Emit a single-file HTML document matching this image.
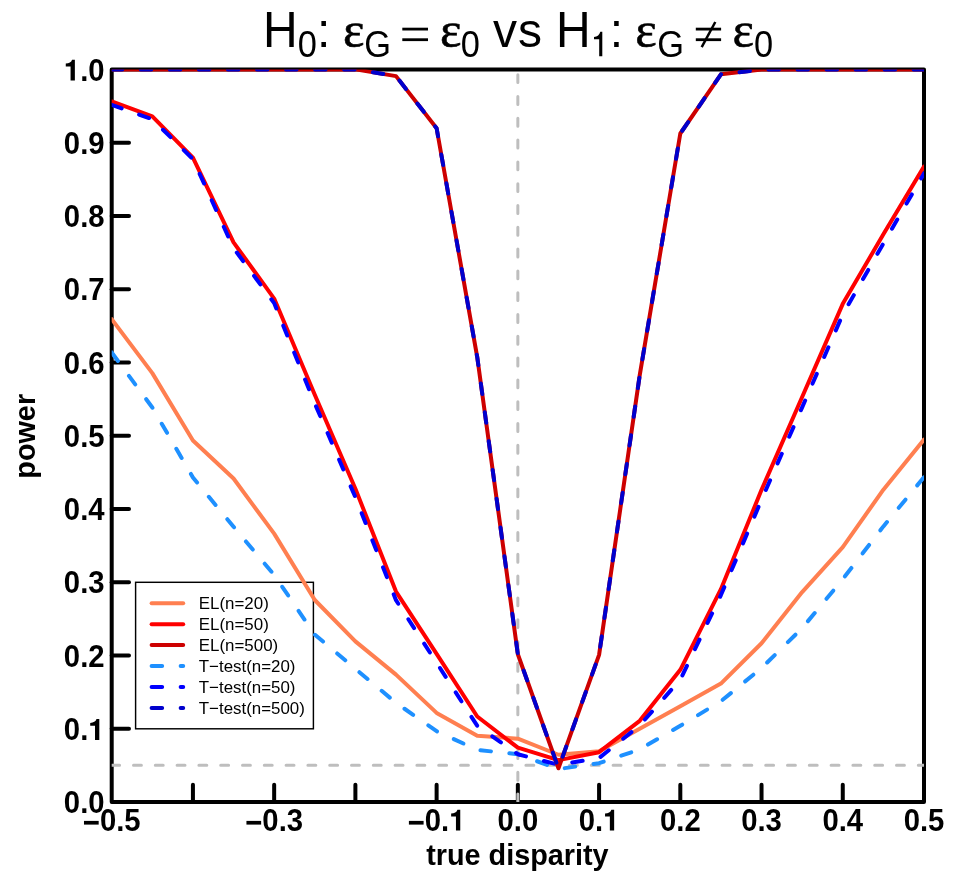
<!DOCTYPE html>
<html><head><meta charset="utf-8"><title>power</title>
<style>html,body{margin:0;padding:0;background:#fff;}body{width:959px;height:872px;overflow:hidden;}svg{display:block;will-change:transform;}text{font-family:"Liberation Sans",sans-serif;fill:#000;}.b{font-weight:bold;font-size:28.8px;}.k{font-weight:bold;font-size:29.3px;}.t{font-size:48px;}.s{font-size:34.4px;}.e{font-family:"Liberation Serif",serif;font-size:51px;stroke:#000;stroke-width:0.6px;}.l{font-size:16.9px;}</style></head><body>
<svg width="959" height="872" viewBox="0 0 959 872">
<rect width="959" height="872" fill="#fff"/>
<defs><clipPath id="c"><rect x="111.7" y="69.4" width="812.3" height="732.6"/></clipPath></defs>
<g fill="none" stroke="#000" stroke-width="4.0" stroke-linecap="round" stroke-linejoin="round">
<rect x="111.7" y="69.4" width="812.3" height="732.6"/>
<line x1="192.93" y1="802.0" x2="192.93" y2="784.7"/>
<line x1="274.16" y1="802.0" x2="274.16" y2="784.7"/>
<line x1="355.39" y1="802.0" x2="355.39" y2="784.7"/>
<line x1="436.62" y1="802.0" x2="436.62" y2="784.7"/>
<line x1="517.85" y1="802.0" x2="517.85" y2="784.7"/>
<line x1="599.08" y1="802.0" x2="599.08" y2="784.7"/>
<line x1="680.31" y1="802.0" x2="680.31" y2="784.7"/>
<line x1="761.54" y1="802.0" x2="761.54" y2="784.7"/>
<line x1="842.77" y1="802.0" x2="842.77" y2="784.7"/>
<line x1="111.7" y1="728.74" x2="129.0" y2="728.74"/>
<line x1="111.7" y1="655.48" x2="129.0" y2="655.48"/>
<line x1="111.7" y1="582.22" x2="129.0" y2="582.22"/>
<line x1="111.7" y1="508.96" x2="129.0" y2="508.96"/>
<line x1="111.7" y1="435.70" x2="129.0" y2="435.70"/>
<line x1="111.7" y1="362.44" x2="129.0" y2="362.44"/>
<line x1="111.7" y1="289.18" x2="129.0" y2="289.18"/>
<line x1="111.7" y1="215.92" x2="129.0" y2="215.92"/>
<line x1="111.7" y1="142.66" x2="129.0" y2="142.66"/>
</g>
<g clip-path="url(#c)" fill="none" stroke="#BEBEBE" stroke-width="3.0" stroke-linecap="round" stroke-dasharray="7.9,13.9">
<line x1="111.7" y1="765.37" x2="924.0" y2="765.37"/>
<line x1="517.85" y1="802.0" x2="517.85" y2="69.4"/>
</g>
<rect x="135.6" y="582.3" width="177.79999999999998" height="146.5" fill="none" stroke="#000" stroke-width="1.45"/>
<line x1="151.6" y1="603.3" x2="183.2" y2="603.3" stroke="#FF7F50" stroke-width="4.0" stroke-linecap="round"/>
<text class="l" x="198.8" y="609.3">EL(n=20)</text>
<line x1="151.6" y1="624.2" x2="183.2" y2="624.2" stroke="#FF0000" stroke-width="4.0" stroke-linecap="round"/>
<text class="l" x="198.8" y="630.2">EL(n=50)</text>
<line x1="151.6" y1="645.1" x2="183.2" y2="645.1" stroke="#CD0000" stroke-width="4.0" stroke-linecap="round"/>
<text class="l" x="198.8" y="651.1">EL(n=500)</text>
<line x1="151.6" y1="666.1" x2="183.2" y2="666.1" stroke="#1E90FF" stroke-width="4.0" stroke-linecap="round" stroke-dasharray="10.55,18.50"/>
<text class="l" x="198.8" y="672.1">T−test(n=20)</text>
<line x1="151.6" y1="687.1" x2="183.2" y2="687.1" stroke="#0000FF" stroke-width="4.0" stroke-linecap="round" stroke-dasharray="10.55,18.50"/>
<text class="l" x="198.8" y="693.1">T−test(n=50)</text>
<line x1="151.6" y1="708.0" x2="183.2" y2="708.0" stroke="#0000CD" stroke-width="4.0" stroke-linecap="round" stroke-dasharray="10.55,18.50"/>
<text class="l" x="198.8" y="714.0">T−test(n=500)</text>
<g clip-path="url(#c)" fill="none" stroke-width="4.0" stroke-linecap="round" stroke-linejoin="round">
<path d="M111.70,319.22 L152.31,373.14 L192.93,440.46 L233.55,478.56 L274.16,533.65 L314.77,600.02 L355.39,641.34 L396.00,674.60 L436.62,712.92 L477.23,735.85 L517.85,738.63 L558.47,754.75 L599.08,751.30 L639.70,728.81 L680.31,706.25 L720.92,683.61 L761.54,643.25 L802.15,592.04 L842.77,547.06 L883.38,489.69 L924.00,439.58" stroke="#FF7F50"/>
<path d="M111.70,352.48 L152.31,407.49 L192.93,477.46 L233.55,526.76 L274.16,574.89 L314.77,634.60 L355.39,668.81 L396.00,702.81 L436.62,731.23 L477.23,749.91 L517.85,754.23 L558.47,769.03 L599.08,763.17 L639.70,749.40 L680.31,725.81 L720.92,701.27 L761.54,668.01 L802.15,628.15 L842.77,579.14 L883.38,526.40 L924.00,477.17" stroke="#1E90FF" stroke-dasharray="10.55,18.50"/>
<path d="M111.70,101.49 L152.31,116.29 L192.93,157.53 L233.55,242.44 L274.16,298.56 L314.77,394.67 L355.39,488.81 L396.00,591.60 L436.62,653.94 L477.23,716.51 L517.85,747.71 L558.47,760.10 L599.08,752.18 L639.70,720.83 L680.31,669.84 L720.92,589.18 L761.54,489.84 L802.15,397.02 L842.77,303.83 L883.38,234.31 L924.00,166.62" stroke="#FF0000"/>
<path d="M111.70,104.86 L152.31,119.22 L192.93,159.14 L233.55,248.15 L274.16,303.10 L314.77,403.47 L355.39,497.24 L396.00,600.17 L436.62,662.81 L477.23,725.81 L517.85,754.23 L558.47,764.78 L599.08,758.04 L639.70,725.44 L680.31,679.66 L720.92,595.04 L761.54,499.80 L802.15,407.35 L842.77,314.45 L883.38,243.47 L924.00,173.43" stroke="#0000FF" stroke-dasharray="10.55,18.50"/>
<path d="M111.70,69.40 L152.31,69.40 L192.93,69.40 L233.55,69.40 L274.16,69.40 L314.77,69.40 L355.39,69.40 L396.00,76.14 L436.62,128.23 L477.23,357.09 L517.85,654.23 L558.47,768.30 L599.08,654.89 L639.70,375.41 L680.31,133.50 L720.92,74.31 L761.54,69.62 L802.15,69.40 L842.77,69.40 L883.38,69.40 L924.00,69.40" stroke="#CD0000"/>
<path d="M111.70,69.40 L152.31,69.40 L192.93,69.40 L233.55,69.40 L274.16,69.40 L314.77,69.40 L355.39,69.40 L396.00,76.14 L436.62,128.23 L477.23,357.09 L517.85,654.23 L558.47,768.30 L599.08,654.89 L639.70,375.41 L680.31,133.50 L720.92,74.31 L761.54,69.62 L802.15,69.40 L842.77,69.40 L883.38,69.40 L924.00,69.40" stroke="#0000CD" stroke-dasharray="10.55,18.50"/>
</g>
<text class="k" transform="translate(63.87,813.20) scale(1,1.05)">0</text>
<text class="k" transform="translate(80.16,813.20) scale(1,1.05)">.</text>
<text class="k" transform="translate(88.31,813.20) scale(1,1.05)">0</text>
<text class="k" transform="translate(63.87,739.94) scale(1,1.05)">0</text>
<text class="k" transform="translate(80.16,739.94) scale(1,1.05)">.</text>
<path transform="translate(88.31,739.94)" d="M6.7,0 V-14.2 H1.9 V-17.0 C5.2,-17.1 7.4,-18.3 8.2,-20.85 H11.0 V0 Z" fill="#000"/>
<text class="k" transform="translate(63.87,666.68) scale(1,1.05)">0</text>
<text class="k" transform="translate(80.16,666.68) scale(1,1.05)">.</text>
<text class="k" transform="translate(88.31,666.68) scale(1,1.05)">2</text>
<text class="k" transform="translate(63.87,593.42) scale(1,1.05)">0</text>
<text class="k" transform="translate(80.16,593.42) scale(1,1.05)">.</text>
<text class="k" transform="translate(88.31,593.42) scale(1,1.05)">3</text>
<text class="k" transform="translate(63.87,520.16) scale(1,1.05)">0</text>
<text class="k" transform="translate(80.16,520.16) scale(1,1.05)">.</text>
<text class="k" transform="translate(88.31,520.16) scale(1,1.05)">4</text>
<text class="k" transform="translate(63.87,446.90) scale(1,1.05)">0</text>
<text class="k" transform="translate(80.16,446.90) scale(1,1.05)">.</text>
<text class="k" transform="translate(88.31,446.90) scale(1,1.05)">5</text>
<text class="k" transform="translate(63.87,373.64) scale(1,1.05)">0</text>
<text class="k" transform="translate(80.16,373.64) scale(1,1.05)">.</text>
<text class="k" transform="translate(88.31,373.64) scale(1,1.05)">6</text>
<text class="k" transform="translate(63.87,300.38) scale(1,1.05)">0</text>
<text class="k" transform="translate(80.16,300.38) scale(1,1.05)">.</text>
<text class="k" transform="translate(88.31,300.38) scale(1,1.05)">7</text>
<text class="k" transform="translate(63.87,227.12) scale(1,1.05)">0</text>
<text class="k" transform="translate(80.16,227.12) scale(1,1.05)">.</text>
<text class="k" transform="translate(88.31,227.12) scale(1,1.05)">8</text>
<text class="k" transform="translate(63.87,153.86) scale(1,1.05)">0</text>
<text class="k" transform="translate(80.16,153.86) scale(1,1.05)">.</text>
<text class="k" transform="translate(88.31,153.86) scale(1,1.05)">9</text>
<path transform="translate(63.87,80.60)" d="M6.7,0 V-14.2 H1.9 V-17.0 C5.2,-17.1 7.4,-18.3 8.2,-20.85 H11.0 V0 Z" fill="#000"/>
<text class="k" transform="translate(80.16,80.60) scale(1,1.05)">.</text>
<text class="k" transform="translate(88.31,80.60) scale(1,1.05)">0</text>
<rect x="83.98" y="820.90" width="14.7" height="3.7" fill="#000"/>
<text class="k" transform="translate(99.89,830.60) scale(1,1.05)">0</text>
<text class="k" transform="translate(116.18,830.60) scale(1,1.05)">.</text>
<text class="k" transform="translate(124.33,830.60) scale(1,1.05)">5</text>
<rect x="246.44" y="820.90" width="14.7" height="3.7" fill="#000"/>
<text class="k" transform="translate(262.35,830.60) scale(1,1.05)">0</text>
<text class="k" transform="translate(278.64,830.60) scale(1,1.05)">.</text>
<text class="k" transform="translate(286.79,830.60) scale(1,1.05)">3</text>
<rect x="408.90" y="820.90" width="14.7" height="3.7" fill="#000"/>
<text class="k" transform="translate(424.81,830.60) scale(1,1.05)">0</text>
<text class="k" transform="translate(441.10,830.60) scale(1,1.05)">.</text>
<path transform="translate(449.25,830.60)" d="M6.7,0 V-14.2 H1.9 V-17.0 C5.2,-17.1 7.4,-18.3 8.2,-20.85 H11.0 V0 Z" fill="#000"/>
<text class="k" transform="translate(497.49,830.60) scale(1,1.05)">0</text>
<text class="k" transform="translate(513.78,830.60) scale(1,1.05)">.</text>
<text class="k" transform="translate(521.92,830.60) scale(1,1.05)">0</text>
<text class="k" transform="translate(578.72,830.60) scale(1,1.05)">0</text>
<text class="k" transform="translate(595.01,830.60) scale(1,1.05)">.</text>
<path transform="translate(603.15,830.60)" d="M6.7,0 V-14.2 H1.9 V-17.0 C5.2,-17.1 7.4,-18.3 8.2,-20.85 H11.0 V0 Z" fill="#000"/>
<text class="k" transform="translate(659.95,830.60) scale(1,1.05)">0</text>
<text class="k" transform="translate(676.24,830.60) scale(1,1.05)">.</text>
<text class="k" transform="translate(684.38,830.60) scale(1,1.05)">2</text>
<text class="k" transform="translate(741.18,830.60) scale(1,1.05)">0</text>
<text class="k" transform="translate(757.47,830.60) scale(1,1.05)">.</text>
<text class="k" transform="translate(765.61,830.60) scale(1,1.05)">3</text>
<text class="k" transform="translate(822.41,830.60) scale(1,1.05)">0</text>
<text class="k" transform="translate(838.70,830.60) scale(1,1.05)">.</text>
<text class="k" transform="translate(846.84,830.60) scale(1,1.05)">4</text>
<text class="k" transform="translate(903.64,830.60) scale(1,1.05)">0</text>
<text class="k" transform="translate(919.93,830.60) scale(1,1.05)">.</text>
<text class="k" transform="translate(928.07,830.60) scale(1,1.05)">5</text>
<text class="b" text-anchor="middle" x="517.4" y="864.5">true disparity</text>
<text class="b" text-anchor="middle" transform="translate(35.3,436.3) rotate(-90)">power</text>
<text class="t" transform="translate(263.0,47.4) scale(1,1.04)">H</text>
<text class="s" transform="translate(297.7,57.0) scale(1,1.06)">0</text>
<text class="t" transform="translate(317.0,47.4) scale(1,1.0)">:</text>
<text class="e" transform="translate(343.0,47.0) scale(1,1.0)">ε</text>
<text class="s" transform="translate(364.2,57.0) scale(1,1.06)">G</text>
<text class="e" transform="translate(440.0,47.0) scale(1,1.0)">ε</text>
<text class="s" transform="translate(460.8,57.0) scale(1,1.06)">0</text>
<text class="t" transform="translate(492.9,47.4) scale(1,1.0)">v</text>
<text class="t" transform="translate(517.9,47.4) scale(1,1.0)">s</text>
<text class="t" transform="translate(555.9,47.4) scale(1,1.04)">H</text>
<text class="t" transform="translate(609.7,47.4) scale(1,1.0)">:</text>
<text class="e" transform="translate(635.3,47.0) scale(1,1.0)">ε</text>
<text class="s" transform="translate(657.2,57.0) scale(1,1.06)">G</text>
<text class="e" transform="translate(732.6,47.0) scale(1,1.0)">ε</text>
<text class="s" transform="translate(753.9,57.0) scale(1,1.06)">0</text>
<path d="M599.2,56.3 V39.3 H594 V36.9 C597.4,36.7 599.5,35 600.3,31.8 H602.3 V56.3 Z" fill="#000"/>
<g fill="#000"><rect x="402.3" y="27.7" width="25.7" height="2.8"/><rect x="402.3" y="38.3" width="25.7" height="2.8"/>
<rect x="695.8" y="27.7" width="25.3" height="2.8"/><rect x="695.8" y="38.3" width="25.3" height="2.8"/></g>
<line x1="701.7" y1="47.2" x2="715.3" y2="22.0" stroke="#000" stroke-width="2.5"/>
</svg></body></html>
